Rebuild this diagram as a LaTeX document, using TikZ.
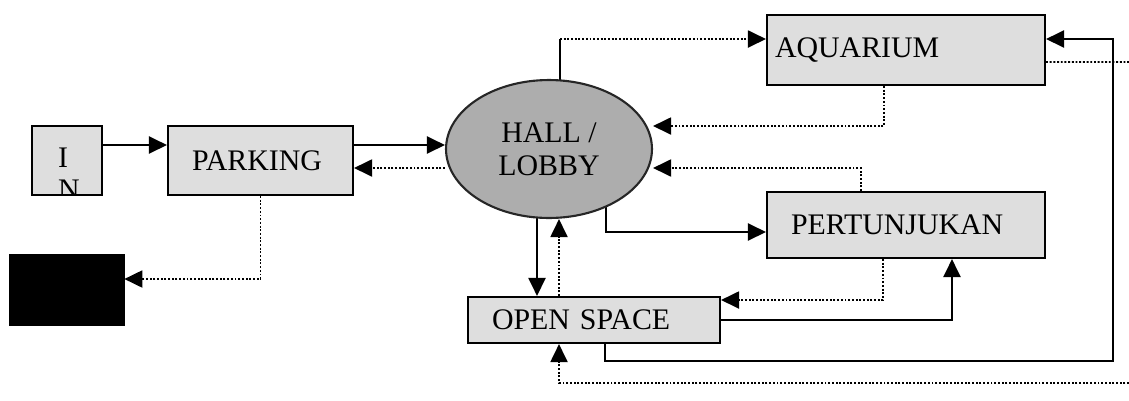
\documentclass[tikz,border=0pt]{standalone}
\usepackage{fontspec}
\setmainfont{Liberation Serif}
\usepackage{tikz}
\usetikzlibrary{
    arrows.meta,
    shapes.geometric,
    positioning,
    calc,
    backgrounds
}
\definecolor{roomgray}{gray}{0.87}
\definecolor{hallgray}{gray}{0.68}
\tikzstyle{room} = [
    rectangle,
    draw=black,
    line width=1.2pt,
    fill=roomgray,
    minimum height=1.38cm,
    inner xsep=0.48cm,
    inner ysep=0pt,
    align=left,
    font=\fontsize{17}{19}\selectfont
]
\tikzstyle{hallway} = [
    ellipse,
    draw=black!85,
    line width=1.2pt,
    fill=hallgray,
    minimum width=4.12cm,
    minimum height=2.76cm,
    inner sep=0pt,
    align=center,
    font=\fontsize{17}{19}\selectfont
]
\tikzstyle{solidarrow} = [
    -{Triangle[length=0.36cm,width=0.34cm]},
    line width=1.2pt,
    draw=black
]
\tikzstyle{dotarrow} = [
    -{Triangle[length=0.36cm,width=0.34cm]},
    line width=1.1pt,
    densely dotted,
    draw=black
]
\tikzstyle{dotline} = [
    line width=1.1pt,
    densely dotted,
    draw=black
]
\begin{document}
\begin{tikzpicture}[x=0.02cm, y=-0.02cm]
        \useasboundingbox (0,0) rectangle (1129,400);

        % Entrance and parking
        \node[rectangle, draw=black, line width=1.2pt, fill=roomgray,
              minimum width=1.4cm, minimum height=1.38cm,
              path picture={\node[anchor=north west, inner sep=0pt, align=left,
                  minimum width=0pt, minimum height=0pt,
                  font=\fontsize{17}{18}\selectfont] (entrytext)
                  at ($(path picture bounding box.north west)+(0.5cm,-0.42cm)$) {I\\N};}]
              (entry) at (67,160.5) {};
        \node[room, minimum width=3.7cm, text width=2.74cm] (parking) at (260.5,160.5) {PARKING};
        \node[rectangle, draw=black, fill=black, minimum width=2.3cm, minimum height=1.42cm] (exit) at (66.5,289.5) {};

        % Hall
        \node[hallway] (hall) at (549,149) {HALL /\\LOBBY};

        % Rooms
        \node[room, minimum width=5.56cm, minimum height=1.4cm, inner xsep=0.16cm, text width=5.24cm] (aqua) at (906,50) {AQUARIUM};
        \node[room, minimum width=5.56cm, minimum height=1.32cm, text width=4.6cm] (show) at (906,225) {PERTUNJUKAN};
        \node[room, minimum width=5.04cm, minimum height=0.92cm, text width=4.08cm] (open) at (594,320) {OPEN SPACE};

        % Free ends
        \coordinate (loopR) at (1113,361);
        \coordinate (edgeA) at (1129,62);
        \coordinate (edgeB) at (1129,383);
        \coordinate (pk1) at ([yshift=0.31cm]parking.east);
        \coordinate (pk2) at ([yshift=-0.15cm]parking.east);
        \coordinate (aq1) at ([yshift=0.22cm]aqua.west);
        \coordinate (hl1) at ([xshift=0.22cm]hall.center);
        \coordinate (bend) at (hl1 |- aq1);
        \coordinate (op1) at ([xshift=-1.14cm]open.north);
        \coordinate (op2) at ([xshift=-0.7cm]open.north);

        \begin{scope}[on background layer]
        % Arrows
        \draw[solidarrow] ([yshift=0.31cm]entry.east) -- ([yshift=0.31cm]parking.west);
        \draw[solidarrow] (pk1) -- (pk1 -| hall.west);
        \draw[dotarrow] (pk2 -| hall.west) -- (pk2);
        \draw[dotarrow] (parking.south) |- ([yshift=0.21cm]exit.east);
        \draw[line width=0.6pt] (hl1) -- (bend);
        \draw[dotarrow] (bend) -- (aq1);
        \draw[dotarrow] ([xshift=-0.44cm]aqua.south) |- ([yshift=0.46cm]hall.east);
        \draw[dotarrow] ([xshift=-0.9cm]show.north) |- ([yshift=-0.38cm]hall.east);
        \draw[solidarrow] ([xshift=1.14cm]hall.center) |- ([yshift=-0.14cm]show.west);
        \draw[solidarrow] (op1 |- hall.center) -- (op1);
        \draw[dotarrow] (op2) -- (op2 |- hall.south);
        \draw[dotarrow] ([xshift=-0.46cm]show.south) |- ([yshift=0.4cm]open.east);
        \draw[solidarrow] (open.east) -| ([xshift=0.92cm]show.south);
        \draw[solidarrow] ([xshift=0.22cm]open.south) |- (loopR) |- ([yshift=0.22cm]aqua.east);
        \draw[dotline] ([yshift=-0.24cm]aqua.east) -- (edgeA);
        \draw[dotarrow] (edgeB) -| ([xshift=-0.7cm]open.south);
        \end{scope}
    \end{tikzpicture}
\end{document}
